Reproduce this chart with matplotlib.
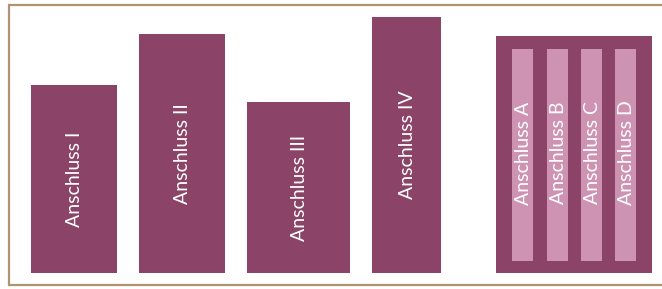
import matplotlib
matplotlib.use("Agg")
import matplotlib.pyplot as plt

# main connections
labels = ["Anschluss I", "Anschluss II", "Anschluss III", "Anschluss IV"]
heights = [188, 239, 171, 256]

# grouped box with sub-connections
group_height = 237
sub_labels = ["Anschluss A", "Anschluss B", "Anschluss C", "Anschluss D"]
sub_bottom = 12
sub_top = 224

# layout (pixels)
lefts = [31, 139, 247, 372]
widths = [86, 86, 103, 69]
group_left, group_width = 496, 156
sub_lefts = [512, 546.5, 580.5, 614.5]
sub_width = 21

BAR = "#8B4468"
SUB = "#CE93B3"
FRAME = "#AF9372"

fig = plt.figure(figsize=(6.62, 2.89), dpi=100)
ax = fig.add_axes([0, 0, 1, 1])
ax.set_xlim(0, 662)
ax.set_ylim(-16, 273)
ax.axis("off")

font = dict(family=["Lato", "DejaVu Sans"], size=14, color="white")

ax.bar(lefts, heights, width=widths, align="edge", color=BAR)
for x, w, h, t in zip(lefts, widths, heights, labels):
    ax.text(x + w / 2 + 1, h / 2, t, rotation=90, ha="center", va="center", **font)

ax.bar(group_left, group_height, width=group_width, align="edge", color=BAR)
ax.bar(sub_lefts, sub_top - sub_bottom, width=sub_width, bottom=sub_bottom,
       align="edge", color=SUB)
for x, t in zip(sub_lefts, sub_labels):
    ax.text(x + sub_width / 2 + 1, (sub_top + sub_bottom) / 2 + 2, t, rotation=90,
            ha="center", va="center", **font)

# frame: top, left, bottom
ax.plot([8.5, 662], [268, 268], color=FRAME, lw=1.6, solid_capstyle="butt")
ax.plot([8.5, 8.5], [268, -12], color=FRAME, lw=1.6)
ax.plot([8.5, 662], [-12, -12], color=FRAME, lw=1.6, solid_capstyle="butt")

fig.savefig("out.png", dpi=100)
